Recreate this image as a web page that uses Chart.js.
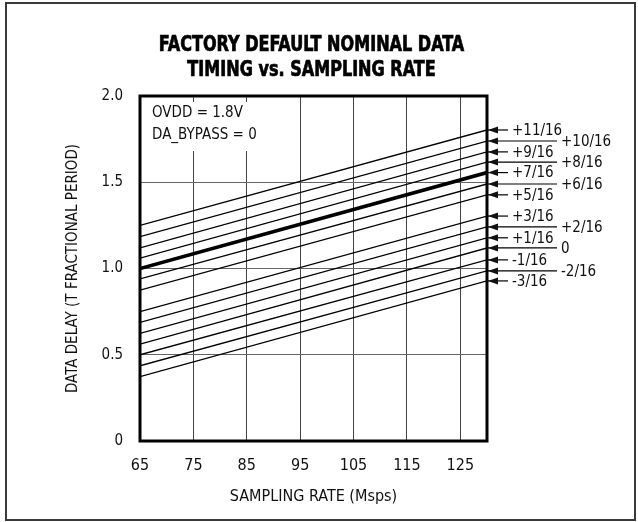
<!DOCTYPE html>
<html>
<head>
<meta charset="utf-8">
<title>Factory default nominal data timing vs. sampling rate</title>
<script src="https://cdn.jsdelivr.net/npm/chart.js@4.4.1/dist/chart.umd.min.js"></script>
<style>
  html, body { margin: 0; padding: 0; background: #fff; overflow: hidden; }
  #wrap { position: relative; width: 638px; height: 522px; }
</style>
</head>
<body>
<div id="wrap"><canvas id="chartTiming"></canvas></div>
<script>
(function () {
  'use strict';

  // Sampling rate span (Msps) and axis ticks
  var RATE_START = 65;
  var RATE_END = 130;
  var X_TICKS = [65, 75, 85, 95, 105, 115, 125];
  var Y_TICKS = [0, 0.5, 1.0, 1.5, 2.0];

  // Delay setting of each curve, top to bottom
  var SETTINGS = ['+11/16', '+10/16', '+9/16', '+8/16', '+7/16', '+6/16', '+5/16',
                  '+3/16', '+2/16', '+1/16', '0', '-1/16', '-2/16', '-3/16'];
  // Data delay (fraction of T) at 65 Msps and at 130 Msps
  var DELAY_AT_START = [1.25, 1.185, 1.12, 1.06, 1.0, 0.94, 0.875,
                        0.75, 0.687, 0.624, 0.561, 0.5, 0.436, 0.373];
  var DELAY_AT_END = [1.803, 1.739, 1.676, 1.617, 1.556, 1.49, 1.427,
                      1.304, 1.241, 1.178, 1.119, 1.05, 0.986, 0.928];
  var DEFAULT_SETTING = '+7/16';
  var TITLE = ['FACTORY DEFAULT NOMINAL DATA', 'TIMING vs. SAMPLING RATE'];
  var NOTES = ['OVDD = 1.8V', 'DA_BYPASS = 0'];

  var FONT = "'Liberation Sans Narrow', 'DejaVu Sans Condensed', 'Arial Narrow', sans-serif";
  var INK = '#111';

  Chart.defaults.font.family = FONT;

  function fixedTicks(list) {
    return function (scale) {
      scale.ticks = list.map(function (v) { return { value: v }; });
    };
  }

  var datasets = SETTINGS.map(function (name, i) {
    var isDefault = name === DEFAULT_SETTING;
    return {
      label: name,
      data: [{ x: RATE_START, y: DELAY_AT_START[i] }, { x: RATE_END, y: DELAY_AT_END[i] }],
      borderColor: '#000',
      borderWidth: isDefault ? 3.6 : 1.3,
      pointRadius: 0,
      tension: 0,
      fill: false
    };
  });

  // heavy condensed two-line heading, centred over the plot
  var heading = {
    id: 'heading',
    afterDraw: function (chart) {
      var ctx = chart.ctx, a = chart.chartArea;
      var cx = (a.left + a.right) / 2 - 2;
      ctx.save();
      ctx.font = 'bold 21px ' + FONT;
      ctx.textAlign = 'center';
      ctx.textBaseline = 'middle';
      ctx.fillStyle = '#000';
      ctx.strokeStyle = '#000';
      ctx.lineWidth = 0.7;
      TITLE.forEach(function (t, i) {
        ctx.save();
        ctx.translate(cx, 46 + i * 25);
        ctx.scale(0.85, 1);
        ctx.fillText(t, 0, 0);
        ctx.strokeText(t, 0, 0);
        ctx.restore();
      });
      ctx.restore();
    }
  };

  // outer frame, plot border and the test-condition box
  var framePlugin = {
    id: 'frame',
    beforeDatasetsDraw: function (chart) {
      var ctx = chart.ctx, a = chart.chartArea;
      ctx.save();
      ctx.fillStyle = '#fff';
      ctx.fillRect(a.left + 1, a.top + 6, 130, 49);
      ctx.fillStyle = INK;
      ctx.font = '15px ' + FONT;
      ctx.textBaseline = 'middle';
      NOTES.forEach(function (t, i) {
        ctx.fillText(t, a.left + 12, a.top + 17 + i * 22);
      });
      ctx.restore();
    },
    afterDatasetsDraw: function (chart) {
      var ctx = chart.ctx, a = chart.chartArea;
      ctx.save();
      ctx.strokeStyle = '#000';
      ctx.lineWidth = 3;
      ctx.strokeRect(a.left, a.top, a.right - a.left, a.bottom - a.top);
      ctx.strokeStyle = '#3a3a3a';
      ctx.lineWidth = 2;
      ctx.strokeRect(6, 3, 629, 517);
      ctx.restore();
    }
  };

  // arrowed setting labels at the right end of each curve
  var settingLabels = {
    id: 'settingLabels',
    afterDraw: function (chart) {
      var ctx = chart.ctx, a = chart.chartArea;
      ctx.save();
      ctx.font = '15px ' + FONT;
      ctx.textBaseline = 'middle';
      ctx.fillStyle = INK;
      ctx.strokeStyle = '#000';
      ctx.lineWidth = 1.2;
      chart.data.datasets.forEach(function (ds, i) {
        var pt = chart.getDatasetMeta(i).data[1];
        var y = pt.y;
        var num = parseInt(ds.label, 10);
        var far = num % 2 === 0;
        var tip = a.right + 1;
        var end = far ? a.right + 70 : a.right + 21;
        ctx.beginPath();
        ctx.moveTo(tip, y);
        ctx.lineTo(end, y);
        ctx.stroke();
        ctx.beginPath();
        ctx.moveTo(tip, y);
        ctx.lineTo(tip + 10, y - 3.5);
        ctx.lineTo(tip + 10, y + 3.5);
        ctx.closePath();
        ctx.fill();
        ctx.fillText(ds.label, end + 4, y + 1);
      });
      ctx.restore();
    }
  };

  new Chart(document.getElementById('chartTiming'), {
    type: 'line',
    data: { datasets: datasets },
    plugins: [framePlugin, settingLabels, heading],
    options: {
      responsive: true,
      maintainAspectRatio: false,
      animation: false,
      layout: { padding: { left: 60, right: 151, top: 96, bottom: 6 } },
      plugins: {
        legend: { display: false },
        tooltip: { enabled: false },
        title: { display: false }
      },
      scales: {
        x: {
          type: 'linear',
          position: 'bottom',
          min: RATE_START,
          max: RATE_END,
          afterBuildTicks: fixedTicks(X_TICKS),
          afterFit: function (s) { s.height = 75; },
          ticks: { color: INK, font: { size: 16 }, padding: 15, maxRotation: 0, autoSkip: false },
          grid: {
            drawTicks: false,
            lineWidth: 1,
            color: function (c) { return c.tick && c.tick.value === RATE_START ? 'rgba(0,0,0,0)' : '#444'; }
          },
          border: { display: false },
          title: {
            display: true,
            text: 'SAMPLING RATE (Msps)',
            color: INK,
            font: { size: 16 },
            padding: { top: 0, bottom: 10 }
          }
        },
        y: {
          min: 0,
          max: 2,
          afterBuildTicks: fixedTicks(Y_TICKS),
          afterFit: function (s) { s.width = 80; },
          ticks: {
            color: INK,
            font: { size: 15 },
            padding: 17,
            callback: function (v) { return v === 0 ? '0' : v.toFixed(1); }
          },
          grid: {
            drawTicks: false,
            lineWidth: 1,
            color: function (c) {
              var v = c.tick && c.tick.value;
              return v === 0 || v === 2 ? 'rgba(0,0,0,0)' : '#666';
            }
          },
          border: { display: false },
          title: {
            display: true,
            text: 'DATA DELAY (T FRACTIONAL PERIOD)',
            color: INK,
            font: { size: 15 },
            padding: { top: 4, bottom: 0 }
          }
        }
      }
    }
  });
})();
</script>
</body>
</html>
